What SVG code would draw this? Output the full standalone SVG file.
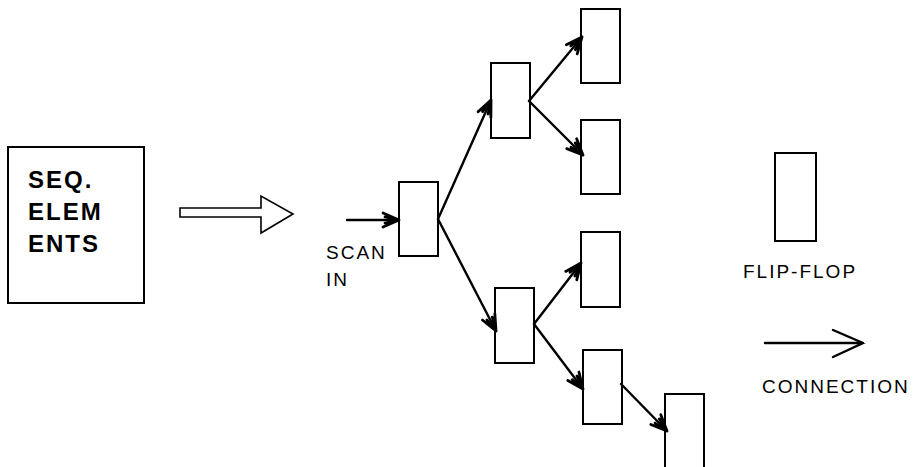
<svg xmlns="http://www.w3.org/2000/svg" width="916" height="467" viewBox="0 0 916 467">
  <defs>
    <style>
      .box { fill: #fff; stroke: #000; stroke-width: 2; }
      .wire { fill: none; stroke: #000; stroke-width: 2.4; stroke-linecap: round; }
      .label { font-family: "Liberation Sans", Arial, sans-serif; font-size: 19px; fill: #000; letter-spacing: 2px; }
      .title { font-family: "Liberation Sans", Arial, sans-serif; font-size: 24px; font-weight: bold; fill: #000; letter-spacing: 2px; }
    </style>
    <!-- hand-drawn style open arrowhead -->
    <marker id="head" viewBox="-20 -10 22 20" markerWidth="22" markerHeight="20" refX="0" refY="0" orient="auto" markerUnits="userSpaceOnUse">
      <path d="M-16,-7 L0,0 L-16,7 M-14,-3 L0,0 L-14,3" fill="none" stroke="#000" stroke-width="2.8" stroke-linecap="round" stroke-linejoin="round"/>
    </marker>
  </defs>

  <!-- sequential elements block -->
  <g id="seq-elements">
    <rect class="box" x="8" y="147" width="136" height="156"/>
    <text class="title" x="28" y="188">SEQ.</text>
    <text class="title" x="28" y="220">ELEM</text>
    <text class="title" x="28" y="252">ENTS</text>
  </g>

  <!-- hollow "becomes" arrow -->
  <g id="transform-arrow">
    <polygon points="180,208 261,208 261,196 293,214 261,233 261,217 180,217" fill="#fff" stroke="#000" stroke-width="1.6" stroke-linejoin="miter"/>
  </g>

  <!-- scan chain flip-flops -->
  <g id="ff1"><rect class="box" x="399" y="182" width="39" height="74"/></g>
  <g id="ff2"><rect class="box" x="491" y="63" width="39" height="75"/></g>
  <g id="ff3"><rect class="box" x="581" y="9" width="39" height="74"/></g>
  <g id="ff4"><rect class="box" x="581" y="120" width="39" height="74"/></g>
  <g id="ff5"><rect class="box" x="495" y="288" width="39" height="75"/></g>
  <g id="ff6"><rect class="box" x="581" y="232" width="39" height="75"/></g>
  <g id="ff7"><rect class="box" x="583" y="350" width="39" height="74"/></g>
  <g id="ff8"><rect class="box" x="665" y="394" width="39" height="80"/></g>

  <g id="scan-in-label">
    <text class="label" x="326" y="259">SCAN</text>
    <text class="label" x="326" y="286">IN</text>
  </g>

  <!-- connections -->
  <g id="connectors">
    <line class="wire" x1="347" y1="220" x2="399" y2="220" marker-end="url(#head)"/>
    <line class="wire" x1="438" y1="219" x2="491" y2="100" marker-end="url(#head)"/>
    <line class="wire" x1="438" y1="219" x2="496" y2="331" marker-end="url(#head)"/>
    <line class="wire" x1="529" y1="101" x2="582" y2="37" marker-end="url(#head)"/>
    <line class="wire" x1="529" y1="101" x2="583" y2="155" marker-end="url(#head)"/>
    <line class="wire" x1="534" y1="324" x2="581" y2="263" marker-end="url(#head)"/>
    <line class="wire" x1="534" y1="324" x2="583" y2="389" marker-end="url(#head)"/>
    <line class="wire" x1="621" y1="384" x2="667" y2="431" marker-end="url(#head)"/>
  </g>

  <!-- legend -->
  <g id="legend-flipflop">
    <rect class="box" x="775" y="153" width="41" height="88"/>
    <text class="label" x="743" y="278">FLIP-FLOP</text>
  </g>
  <g id="legend-connection">
    <path class="wire" d="M765,343 L863,343 M833,330 L863,343 L833,357"/>
    <text class="label" x="762" y="393">CONNECTION</text>
  </g>
</svg>
